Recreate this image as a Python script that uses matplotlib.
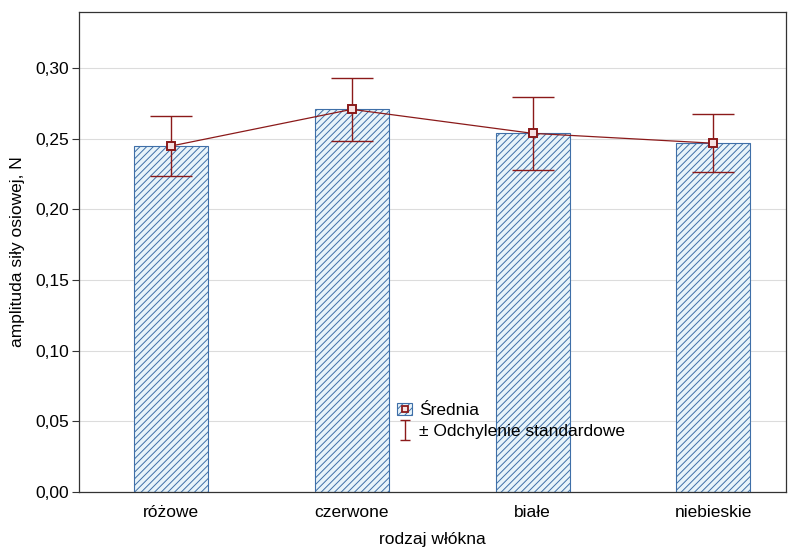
import matplotlib
matplotlib.use("Agg")
import matplotlib.pyplot as plt
from matplotlib.patches import Patch
from matplotlib.lines import Line2D
from matplotlib.path import Path
from matplotlib.ticker import FuncFormatter, MultipleLocator

plt.rcParams["font.family"] = ["Liberation Sans", "DejaVu Sans"]
plt.rcParams["hatch.color"] = "#7597ba"
plt.rcParams["hatch.linewidth"] = 0.7

categories = ["różowe", "czerwone", "białe", "niebieskie"]
means = [0.245, 0.271, 0.254, 0.247]
err_low = [0.2235, 0.2485, 0.228, 0.2265]
err_high = [0.266, 0.293, 0.280, 0.268]

bar_face = "#e8f4fa"
bar_edge = "#3f6fa8"
red = "#8b1a1a"
fs = 12.5

fig = plt.figure(figsize=(7.96, 5.48), dpi=100)
ax = fig.add_axes([0.099, 0.103, 0.888, 0.875])

x = list(range(len(categories)))
ax.bar(x, means, width=0.41, color=bar_face, edgecolor=bar_edge,
       linewidth=0.8, hatch="/////", zorder=2)

yerr = [[m - lo for m, lo in zip(means, err_low)],
        [hi - m for m, hi in zip(means, err_high)]]
ax.errorbar(x, means, yerr=yerr, fmt="none", ecolor=red, elinewidth=1.0,
            capsize=15, capthick=1.0, zorder=3)
ax.plot(x, means, "-", color=red, lw=0.9, marker="s", markersize=6,
        markerfacecolor="#f6e2e2", markeredgecolor=red, markeredgewidth=1.4,
        zorder=4)

ax.set_xlim(-0.51, 3.40)
ax.set_ylim(0, 0.34)
ax.yaxis.set_major_locator(MultipleLocator(0.05))
ax.yaxis.set_major_formatter(FuncFormatter(lambda v, p: f"{v:.2f}".replace(".", ",")))
ax.set_xticks(x)
ax.set_xticklabels(categories)
ax.grid(axis="y", color="#dcdcdc", lw=0.8, zorder=0)
ax.set_axisbelow(True)
ax.tick_params(axis="y", direction="out", length=5, pad=2, labelsize=fs, color="#333333")
ax.tick_params(axis="x", length=0, labelsize=fs, pad=10)
for s in ax.spines.values():
    s.set_color("#333333")
    s.set_linewidth(0.9)

ax.set_xlabel("rodzaj włókna", fontsize=fs, labelpad=8)
ax.set_ylabel("amplituda siły osiowej, N", fontsize=fs, labelpad=7)

# "I" shaped marker for the std-dev legend entry
i_path = Path([(-0.5, 1), (0.5, 1), (0, 1), (0, -1), (-0.5, -1), (0.5, -1)],
              [Path.MOVETO, Path.LINETO, Path.MOVETO, Path.LINETO,
               Path.MOVETO, Path.LINETO])
mean_handle = (Patch(facecolor=bar_face, edgecolor=bar_edge, hatch="/////", lw=0.8),
               Line2D([], [], marker="s", ls="", markersize=5,
                      markerfacecolor="#f6e2e2", markeredgecolor=red,
                      markeredgewidth=1.3))
err_handle = Line2D([], [], marker=i_path, ls="", markersize=14,
                    markerfacecolor="none", markeredgecolor=red,
                    markeredgewidth=1.0)
ax.legend([mean_handle, err_handle], ["Średnia", "± Odchylenie standardowe"],
          loc="upper left", bbox_to_anchor=(0.44, 0.2), frameon=False,
          fontsize=fs, handlelength=0.9, handletextpad=0.4, labelspacing=0.35,
          borderaxespad=0)

fig.savefig("out.png", dpi=100)
